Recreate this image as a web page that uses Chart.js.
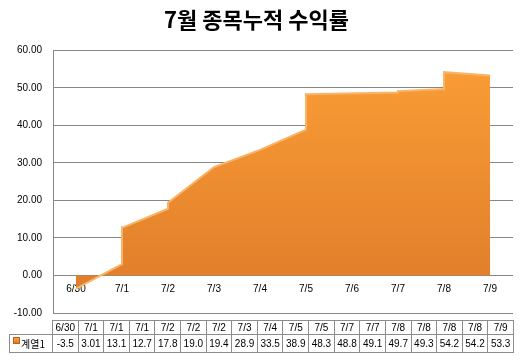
<!DOCTYPE html>
<html>
<head>
<meta charset="utf-8">
<script src="https://cdn.jsdelivr.net/npm/chart.js@4"></script>
<style>
  body { margin: 0; background: #fff; }
  #wrap { position: relative; width: 523px; height: 362px; }
  #chart { position: absolute; left: 0; top: 0; }
  #table {
    position: absolute; left: 9px; top: 320px; width: 505px;
    border-collapse: collapse; table-layout: fixed;
    font-family: "Liberation Sans", Arial, sans-serif; font-size: 10px; color: #000;
  }
  #table td { border: 1px solid #8c8c8c; text-align: center; padding: 0; overflow: hidden; white-space: nowrap; }
  #table col.first { width: 43px; }
  #table tr.head td { height: 13px; }
  #table tr.vals td { height: 17px; }
  #table td.corner { border-top: none; border-left: none; }
  #table td.key { text-align: left; font-family: "Noto Sans CJK KR", sans-serif; font-size: 10px; padding-left: 3px; }
  .sq { display: inline-block; width: 5px; height: 5px; vertical-align: 4px; margin-right: 1px;
        background: linear-gradient(#f9a23f, #df7a26); border: 0.5px solid #b8631f; }
</style>
</head>
<body>
<div id="wrap">
  <canvas id="chart" width="523" height="330"></canvas>
  <table id="table"></table>
</div>
<script>
// Date axis labels
const axisDates = ['6/30', '7/1', '7/2', '7/3', '7/4', '7/5', '7/6', '7/7', '7/8', '7/9'];

// Data table categories and values (계열1)
const pointDates = ['6/30', '7/1', '7/1', '7/1', '7/2', '7/2', '7/2', '7/3', '7/4',
                    '7/5', '7/5', '7/7', '7/7', '7/8', '7/8', '7/8', '7/8', '7/9'];
const values = [-3.5, 3.01, 13.1, 12.7, 17.8, 19.0, 19.4, 28.9, 33.5,
                 38.9, 48.3, 48.8, 49.1, 49.7, 49.3, 54.2, 54.2, 53.3];
const seriesName = '계열1';

// keep one decimal unless the value has more (3.01)
function fmt(v) {
    return Math.round(v * 10) / 10 === v ? v.toFixed(1) : String(v);
}

// Build data table
const table = document.getElementById('table');
let cols = '<colgroup><col class="first">';
pointDates.forEach(() => { cols += '<col>'; });
cols += '</colgroup>';
let headRow = '<tr class="head"><td class="corner"></td>';
pointDates.forEach(d => { headRow += '<td>' + d + '</td>'; });
headRow += '</tr>';
let valRow = '<tr class="vals"><td class="key"><span class="sq"></span>' + seriesName + '</td>';
values.forEach(v => { valRow += '<td>' + fmt(v) + '</td>'; });
valRow += '</tr>';
table.innerHTML = cols + headRow + valRow;

const points = pointDates.map((d, i) => ({ x: axisDates.indexOf(d), y: values[i] }));

const ctx = document.getElementById('chart').getContext('2d');

new Chart(ctx, {
    type: 'line',
    data: {
        datasets: [{
            label: seriesName,
            data: points,
            fill: 'origin',
            tension: 0,
            pointRadius: 0,
            borderColor: '#f8b468',
            borderWidth: 2,
            backgroundColor: (context) => {
                const area = context.chart.chartArea;
                if (!area) return '#f08c30';
                const g = context.chart.ctx.createLinearGradient(0, area.top, 0, area.bottom);
                g.addColorStop(0, '#fb9f36');
                g.addColorStop(1, '#de7a2a');
                return g;
            }
        }]
    },
    options: {
        responsive: false,
        animation: false,
        devicePixelRatio: 1,
        layout: { padding: { left: 0, right: 10, top: 0, bottom: 6 } },
        plugins: {
            legend: { display: false },
            tooltip: { enabled: false },
            title: {
                display: true,
                text: '7월 종목누적 수익률',
                color: '#000',
                font: { family: '"Noto Sans CJK KR", sans-serif', size: 22, weight: 'bold' },
                padding: { top: 6, bottom: 18 }
            }
        },
        scales: {
            x: {
                type: 'linear',
                position: { y: 0 },
                z: 1,
                min: -0.5,
                max: 9.5,
                afterBuildTicks: (scale) => {
                    scale.ticks = axisDates.map((d, i) => ({ value: i }));
                },
                afterFit: (scale) => { scale.height = 0; },
                ticks: {
                    callback: (v) => axisDates[v],
                    color: '#000',
                    padding: 8,
                    maxRotation: 0,
                    autoSkip: false,
                    font: { family: '"Liberation Sans", Arial, sans-serif', size: 10 }
                },
                grid: { display: false, drawTicks: false },
                border: { display: false }
            },
            y: {
                min: -10,
                max: 60,
                afterFit: (scale) => { scale.width = 53; },
                ticks: {
                    stepSize: 10,
                    callback: (v) => v.toFixed(2),
                    color: '#000',
                    padding: 11,
                    font: { family: '"Liberation Sans", Arial, sans-serif', size: 10 }
                },
                grid: { color: '#878787', drawTicks: false },
                border: { display: true, color: '#878787' }
            }
        }
    }
});
</script>
</body>
</html>
